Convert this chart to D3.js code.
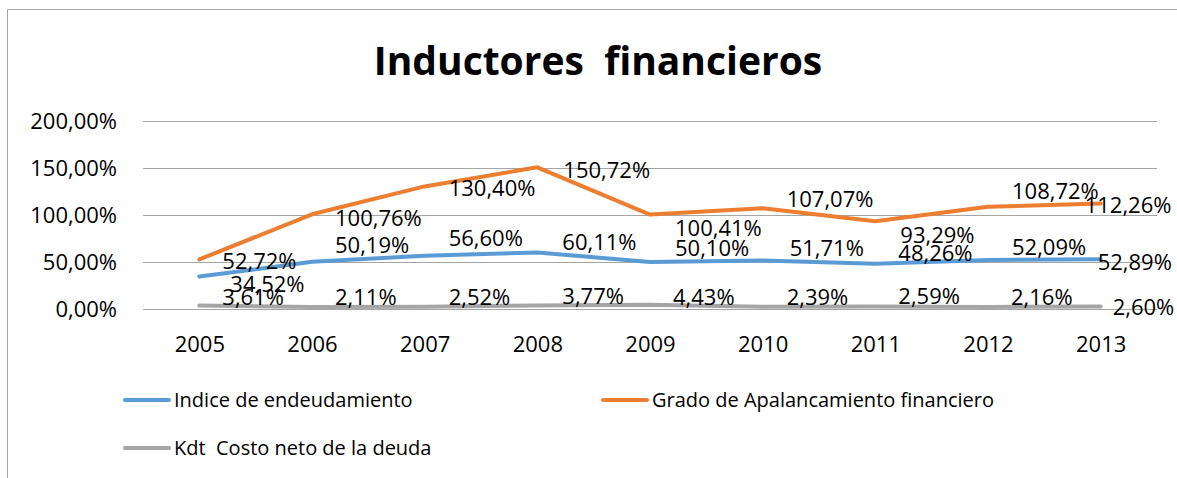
<!DOCTYPE html>
<html>
<head>
<meta charset="utf-8">
<script src="https://cdn.jsdelivr.net/npm/d3@7"></script>
<style>
  body { margin: 0; background: #fff; }
  text { font-family: "Open Sans", sans-serif; fill: #000; white-space: pre; }
</style>
</head>
<body>
<div id="chart"></div>
<script>
// years on the x axis
const years = ["2005", "2006", "2007", "2008", "2009", "2010", "2011", "2012", "2013"];

// series values, in percent
const endeudamiento = [34.52, 50.19, 56.60, 60.11, 50.10, 51.71, 48.26, 52.09, 52.89];
const apalancamiento = [52.72, 100.76, 130.40, 150.72, 100.41, 107.07, 93.29, 108.72, 112.26];
const costoDeuda = [3.61, 2.11, 2.52, 3.77, 4.43, 2.39, 2.59, 2.16, 2.60];

const seriesNames = ["Indice de endeudamiento", "Grado de Apalancamiento financiero", "Kdt  Costo neto de la deuda"];
const yTicks = [0, 50, 100, 150, 200];

// label nudges (pixels) the way they were dragged in the original
const nudgeEnd = [[31, 8], [23, -17], [24, -18], [25, -10], [25, -14], [27, -12], [23, -11], [24, -13], [-3, 3]];
const nudgeApa = [[23, 2], [23, 4], [24, 2], [26, 3], [25, 13], [24, -9], [25, 14], [24, -16], [-16, 2]];
const nudgeKdt = [[23, -9], [23, -10], [24, -10], [25, -9], [23, -8], [24, -10], [23, -10], [23, -10], [12, 1]];

const colors = ["#5b9bd5", "#ed7d31", "#a5a5a5"];

const width = 1177, height = 478;
const svg = d3.select("#chart").append("svg")
    .attr("width", width)
    .attr("height", height);

// outer border (only top and left show in the crop)
svg.append("path")
    .attr("d", `M7.5,${height} V9.5 H${width}`)
    .attr("fill", "none")
    .attr("stroke", "#a6a6a6")
    .attr("stroke-width", 1);

// title
svg.append("text")
    .attr("x", 598)
    .attr("y", 75)
    .attr("text-anchor", "middle")
    .style("font-size", "39px")
    .style("font-weight", "bold")
    .text("Inductores  financieros");

const plot = { left: 143, right: 1157, top: 121, bottom: 309 };

const x = d3.scalePoint()
    .domain(years)
    .range([plot.left, plot.right])
    .padding(0.5);

const y = d3.scaleLinear()
    .domain([0, 200])
    .range([plot.bottom, plot.top]);

const es = d3.formatLocale({ decimal: ",", thousands: ".", grouping: [3], currency: ["", "€"] });
const pct = v => es.format(".2f")(v) + "%";

// gridlines
svg.append("g")
    .selectAll("line")
    .data(yTicks)
    .join("line")
    .attr("x1", plot.left)
    .attr("x2", plot.right)
    .attr("y1", d => Math.round(y(d)) + 0.5)
    .attr("y2", d => Math.round(y(d)) + 0.5)
    .attr("stroke", "#a6a6a6")
    .attr("stroke-width", 1);

// y axis
const yAxis = svg.append("g")
    .attr("transform", `translate(${plot.left - 26},0)`)
    .call(d3.axisLeft(y).tickValues(yTicks).tickFormat(pct).tickSize(0).tickPadding(0));
yAxis.select(".domain").remove();
yAxis.selectAll("text")
    .style("font-family", "'Open Sans', sans-serif")
    .style("font-size", "22px")
    .attr("fill", "#000")
    .attr("dy", "0.36em");

// x axis
const xAxis = svg.append("g")
    .attr("transform", `translate(0,${plot.bottom})`)
    .call(d3.axisBottom(x).tickSize(0).tickPadding(27));
xAxis.select(".domain").remove();
xAxis.selectAll("text")
    .style("font-family", "'Open Sans', sans-serif")
    .style("font-size", "22px")
    .attr("fill", "#000");

const allSeries = [
    { name: seriesNames[0], values: endeudamiento, nudge: nudgeEnd, color: colors[0] },
    { name: seriesNames[1], values: apalancamiento, nudge: nudgeApa, color: colors[1] },
    { name: seriesNames[2], values: costoDeuda, nudge: nudgeKdt, color: colors[2] }
];

const line = d3.line()
    .x((d, i) => x(years[i]))
    .y(d => y(d));

// draw gray first so it sits under, then blue and orange
[allSeries[2], allSeries[0], allSeries[1]].forEach(s => {
    svg.append("path")
        .datum(s.values)
        .attr("d", line)
        .attr("fill", "none")
        .attr("stroke", s.color)
        .attr("stroke-width", 4)
        .attr("stroke-linejoin", "round")
        .attr("stroke-linecap", "round");
});

// data labels
allSeries.forEach(s => {
    svg.append("g")
        .selectAll("text")
        .data(s.values)
        .join("text")
        .attr("x", (d, i) => x(years[i]) + s.nudge[i][0])
        .attr("y", (d, i) => y(d) + s.nudge[i][1])
        .attr("dy", "0.36em")
        .style("font-size", "22px")
        .text(d => pct(d));
});

// legend
const legendItems = [
    { name: seriesNames[0], color: colors[0], x: 123, y: 400 },
    { name: seriesNames[1], color: colors[1], x: 601, y: 400 },
    { name: seriesNames[2], color: colors[2], x: 123, y: 448 }
];
const legend = svg.append("g");
legendItems.forEach(it => {
    legend.append("line")
        .attr("x1", it.x + 2)
        .attr("x2", it.x + 46)
        .attr("y1", it.y)
        .attr("y2", it.y)
        .attr("stroke", it.color)
        .attr("stroke-width", 4)
        .attr("stroke-linecap", "round");
    legend.append("text")
        .attr("x", it.x + 51)
        .attr("y", it.y)
        .attr("dy", "0.36em")
        .style("font-size", "20px")
        .text(it.name);
});
</script>
</body>
</html>
